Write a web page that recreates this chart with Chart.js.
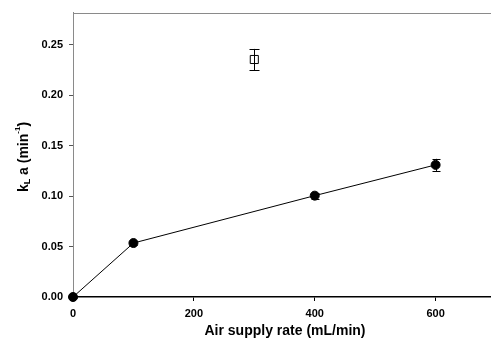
<!DOCTYPE html>
<html>
<head>
<meta charset="utf-8">
<script src="https://cdn.jsdelivr.net/npm/chart.js@4/dist/chart.umd.min.js"></script>
<style>
  html, body { margin: 0; padding: 0; background: #fff; }
  #wrap { width: 491px; height: 342px; }
</style>
</head>
<body>
<div id="wrap"><canvas id="kla"></canvas></div>
<script>
// air supply rate (mL/min) and kLa (1/min)
const airRates = [0, 100, 400, 600];
const klaValues = [0, 0.0535, 0.1005, 0.131];
const klaErrors = [0.001, 0.002, 0.003, 0.006];

// single open square point
const squareRate = [300];
const squareValue = [0.2355];
const squareError = [0.0105];

const xTicks = [0, 200, 400, 600];
const yTicks = [0, 0.05, 0.10, 0.15, 0.20, 0.25];

const FONT = "'Liberation Sans', Arial, sans-serif";

// error bars drawn from the data through the scales
const errorBars = {
    id: 'errorBars',
    afterDatasetsDraw(chart) {
        const ctx = chart.ctx;
        const xs = chart.scales.x, ys = chart.scales.y;
        ctx.save();
        ctx.strokeStyle = '#000';
        ctx.lineWidth = 1;
        chart.data.datasets.forEach((ds) => {
            ds.data.forEach((p, i) => {
                const err = ds.errors[i];
                const px = Math.round(xs.getPixelForValue(p.x)) + 0.5;
                const top = ys.getPixelForValue(p.y + err);
                const bot = ys.getPixelForValue(p.y - err);
                const cap = ds.capWidth;
                ctx.beginPath();
                ctx.moveTo(px, top);
                ctx.lineTo(px, bot);
                ctx.moveTo(px - cap, Math.round(top) + 0.5);
                ctx.lineTo(px + cap, Math.round(top) + 0.5);
                ctx.moveTo(px - cap, Math.round(bot) + 0.5);
                ctx.lineTo(px + cap, Math.round(bot) + 0.5);
                ctx.stroke();
            });
        });
        ctx.restore();
    }
};

// frame line on top and the two axis titles
const frameAndTitles = {
    id: 'frameAndTitles',
    afterDraw(chart) {
        const ctx = chart.ctx;
        const a = chart.chartArea;
        ctx.save();
        ctx.strokeStyle = '#8a8a8a';
        ctx.lineWidth = 1;
        ctx.beginPath();
        ctx.moveTo(a.left, Math.round(a.top) + 0.5);
        ctx.lineTo(chart.width, Math.round(a.top) + 0.5);
        ctx.stroke();

        ctx.fillStyle = '#000';
        ctx.font = 'bold 14px ' + FONT;
        ctx.textAlign = 'center';
        ctx.textBaseline = 'middle';
        ctx.fillText('Air supply rate (mL/min)', 285, 331);

        // y title: k_L a (min^-1), rotated
        const parts = [
            { t: 'k', size: 14, dy: 0 },
            { t: 'L', size: 9, dy: 4 },
            { t: ' a (min', size: 14, dy: 0 },
            { t: '-1', size: 8, dy: -6 },
            { t: ')', size: 14, dy: 0 }
        ];
        let total = 0;
        parts.forEach(p => {
            ctx.font = 'bold ' + p.size + 'px ' + FONT;
            p.w = ctx.measureText(p.t).width;
            total += p.w;
        });
        ctx.translate(24, 157);
        ctx.rotate(-Math.PI / 2);
        ctx.textAlign = 'left';
        let cx = -total / 2;
        parts.forEach(p => {
            ctx.font = 'bold ' + p.size + 'px ' + FONT;
            ctx.fillText(p.t, cx, p.dy);
            cx += p.w;
        });
        ctx.restore();
    }
};

new Chart(document.getElementById('kla'), {
    type: 'scatter',
    data: {
        datasets: [
            {
                data: airRates.map((x, i) => ({ x: x, y: klaValues[i] })),
                errors: klaErrors,
                capWidth: 4,
                showLine: true,
                clip: false,
                borderColor: '#000',
                borderWidth: 1,
                backgroundColor: '#000',
                pointRadius: 4.5,
                pointBorderWidth: 1,
                pointBorderColor: '#000',
                pointBackgroundColor: '#000'
            },
            {
                data: squareRate.map((x, i) => ({ x: x, y: squareValue[i] })),
                errors: [squareError[0]],
                capWidth: 5,
                clip: false,
                pointStyle: 'rect',
                pointRadius: 5.7,
                pointBorderWidth: 1,
                pointBorderColor: '#000',
                pointBackgroundColor: '#fff'
            }
        ]
    },
    options: {
        responsive: true,
        maintainAspectRatio: false,
        animation: false,
        layout: { autoPadding: false, padding: { top: 9, right: 1, left: 0, bottom: 0 } },
        plugins: { legend: { display: false }, tooltip: { enabled: false } },
        scales: {
            x: {
                type: 'linear',
                min: 0,
                max: 690,
                afterFit(s) { s.height = 45; },
                afterBuildTicks(s) { s.ticks = xTicks.map(v => ({ value: v })); },
                ticks: {
                    color: '#000',
                    font: { family: FONT, size: 11, weight: 'bold' },
                    padding: 6
                },
                grid: { drawOnChartArea: false, tickLength: 4, color: '#000' },
                border: { color: '#000', width: 1.5 }
            },
            y: {
                type: 'linear',
                min: 0,
                max: 0.282,
                afterFit(s) { s.width = 73; },
                afterBuildTicks(s) { s.ticks = yTicks.map(v => ({ value: v })); },
                ticks: {
                    color: '#000',
                    font: { family: FONT, size: 11, weight: 'bold' },
                    padding: 6,
                    callback: v => v.toFixed(2)
                },
                grid: { drawOnChartArea: false, tickLength: 4, color: '#555' },
                border: { color: '#8a8a8a', width: 1 }
            }
        }
    },
    plugins: [errorBars, frameAndTitles]
});
</script>
</body>
</html>
